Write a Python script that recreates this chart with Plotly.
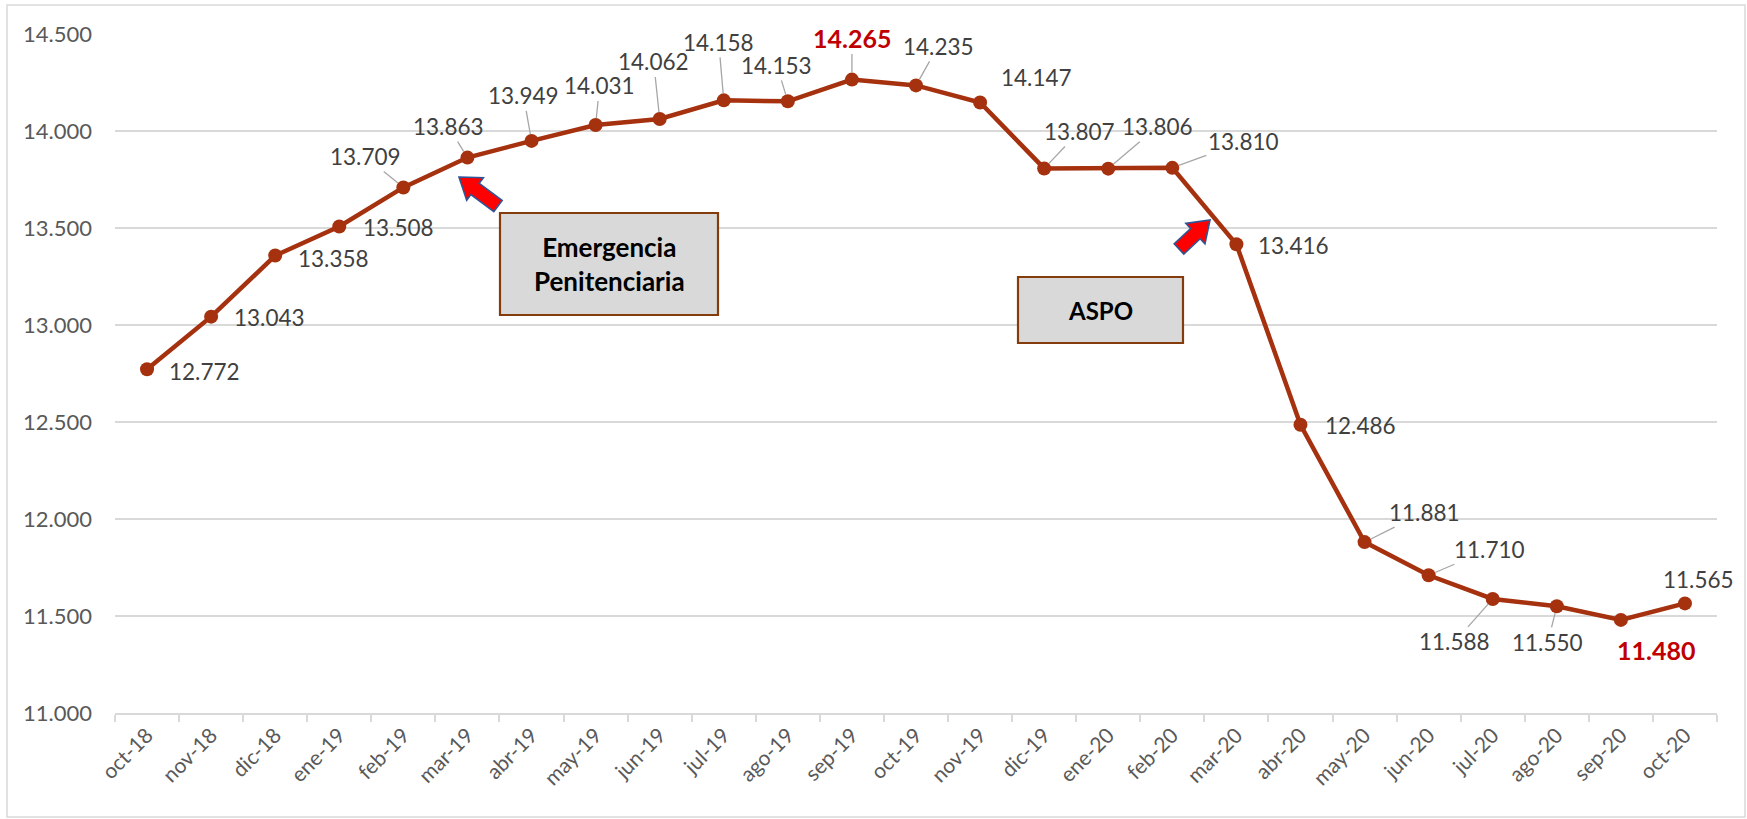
import math
import plotly.graph_objects as go

# ---------------- data ----------------
months = ["oct-18", "nov-18", "dic-18", "ene-19", "feb-19", "mar-19", "abr-19",
          "may-19", "jun-19", "jul-19", "ago-19", "sep-19", "oct-19", "nov-19",
          "dic-19", "ene-20", "feb-20", "mar-20", "abr-20", "may-20", "jun-20",
          "jul-20", "ago-20", "sep-20", "oct-20"]
values = [12772, 13043, 13358, 13508, 13709, 13863, 13949, 14031, 14062, 14158,
          14153, 14265, 14235, 14147, 13807, 13806, 13810, 13416, 12486, 11881,
          11710, 11588, 11550, 11480, 11565]
highlighted = ["sep-19", "sep-20"]          # maximum and minimum
y_ticks = [11000, 11500, 12000, 12500, 13000, 13500, 14000, 14500]
box_texts = ["Emergencia<br>Penitenciaria", "ASPO"]

# ---------------- layout config (pixels) ----------------
W, H = 1747, 819
ML, MR, MT, MB = 115, 30, 34, 106
PW, PH = W - ML - MR, H - MT - MB

# label offset from point (dx, dy; dy positive = down), leader line flag
label_pos = [
    (57, 2, False), (58, 1, False), (58, 3, False), (59, 1, False),
    (-38, -31, True), (-19, -31, True), (-8, -45, True), (4, -39, True),
    (-6, -57, True), (-5, -58, True), (-11, -36, True), (0, -42, True),
    (22, -39, True), (56, -25, False), (35, -37, True), (49, -42, True),
    (71, -26, True), (57, 1, False), (60, 1, False), (60, -30, True),
    (61, -26, True), (-38, 43, True), (-9, 36, True), (35, 30, False),
    (14, -24, False),
]

LINE = "#A5310F"
FONT = "Lato"


def px2paper(x, y):
    return (x - ML) / PW, (MT + PH - y) / PH


def fmt(v):
    return f"{v:,}".replace(",", ".")


fig = go.Figure()
fig.add_trace(go.Scatter(
    x=months, y=values, mode="lines+markers",
    line=dict(color=LINE, width=4.5),
    marker=dict(color=LINE, size=14),
    hoverinfo="x+y", showlegend=False,
))

annotations = []
for m, v, (dx, dy, leader) in zip(months, values, label_pos):
    hl = m in highlighted
    font = dict(family=FONT, size=25 if hl else 22.5,
                color="#C00000" if hl else "#404040",
                weight="bold" if hl else "normal")
    if leader:
        annotations.append(dict(
            x=m, y=v, text=fmt(v), showarrow=True, ax=dx, ay=dy,
            arrowhead=0, arrowwidth=1.3, arrowcolor="#A6A6A6", standoff=7,
            font=font, borderpad=1,
        ))
    else:
        annotations.append(dict(
            x=m, y=v, text=fmt(v), showarrow=False, xshift=dx, yshift=-dy,
            font=font,
        ))

shapes = []
# outer chart border
x0, y0 = px2paper(7, 5)
x1, y1 = px2paper(1745, 817)
shapes.append(dict(type="rect", xref="paper", yref="paper", x0=x0, y0=y0,
                   x1=x1, y1=y1, line=dict(color="#D9D9D9", width=1.5),
                   fillcolor="rgba(0,0,0,0)", layer="below"))

# text boxes
boxes = [((500, 213, 718, 315), box_texts[0], 26),
         ((1018, 277, 1183, 343), box_texts[1], 24)]
for (bx0, by0, bx1, by1), txt, fs in boxes:
    a0, b0 = px2paper(bx0, by0)
    a1, b1 = px2paper(bx1, by1)
    shapes.append(dict(type="rect", xref="paper", yref="paper", x0=a0, y0=b1,
                       x1=a1, y1=b0, line=dict(color="#843C0C", width=2.2),
                       fillcolor="#D9D9D9"))
    cx, cy = px2paper((bx0 + bx1) / 2, (by0 + by1) / 2)
    annotations.append(dict(x=cx, y=cy, xref="paper", yref="paper", text=txt,
                            showarrow=False, xanchor="center", yanchor="middle",
                            font=dict(family=FONT, size=fs, color="#000000",
                                      weight="bold")))


# block arrows (decoration)
def block_arrow(tip, tail, hl=20, hw=14, sw=7):
    tx, ty = tip
    bx, by = tail
    L = math.hypot(tx - bx, ty - by)
    ux, uy = (tx - bx) / L, (ty - by) / L
    nx, ny = -uy, ux
    hx, hy = tx - ux * hl, ty - uy * hl
    pts = [
        (tx, ty),
        (hx + nx * hw, hy + ny * hw),
        (hx + nx * sw, hy + ny * sw),
        (bx + nx * sw, by + ny * sw),
        (bx - nx * sw, by - ny * sw),
        (hx - nx * sw, hy - ny * sw),
        (hx - nx * hw, hy - ny * hw),
    ]
    pp = [px2paper(x, y) for x, y in pts]
    path = "M " + " L ".join(f"{x:.5f} {y:.5f}" for x, y in pp) + " Z"
    return dict(type="path", xref="paper", yref="paper", path=path,
                fillcolor="#FF0000", line=dict(color="#2F5597", width=1.6))


shapes.append(block_arrow((459, 177), (498, 206)))
shapes.append(block_arrow((1210, 220), (1179, 249)))

fig.update_layout(
    width=W, height=H,
    margin=dict(l=ML, r=MR, t=MT, b=MB, pad=0),
    paper_bgcolor="white", plot_bgcolor="white",
    separators=",.",
    font=dict(family=FONT, color="#595959"),
    xaxis=dict(
        type="category", tickangle=-45, tickson="boundaries",
        ticks="outside", ticklen=7, tickwidth=1.5, tickcolor="#D9D9D9",
        showline=True, linecolor="#D9D9D9", linewidth=1.5,
        showgrid=False, zeroline=False,
        tickfont=dict(family=FONT, size=21, color="#595959"),
        range=[-0.5, len(months) - 0.5], fixedrange=True,
    ),
    yaxis=dict(
        range=[11000, 14500], tickvals=y_ticks, tickformat=",.0f",
        showgrid=True, gridcolor="#D9D9D9", gridwidth=1.5,
        zeroline=False, showline=False, ticks="",
        ticklabelstandoff=22,
        tickfont=dict(family=FONT, size=22, color="#595959"),
        fixedrange=True,
    ),
    shapes=shapes,
    annotations=annotations,
)

fig.write_html(
    "out.html",
    config={"displayModeBar": False},
    post_script="document.body.style.margin='0px';document.body.style.overflow='hidden';",
)
